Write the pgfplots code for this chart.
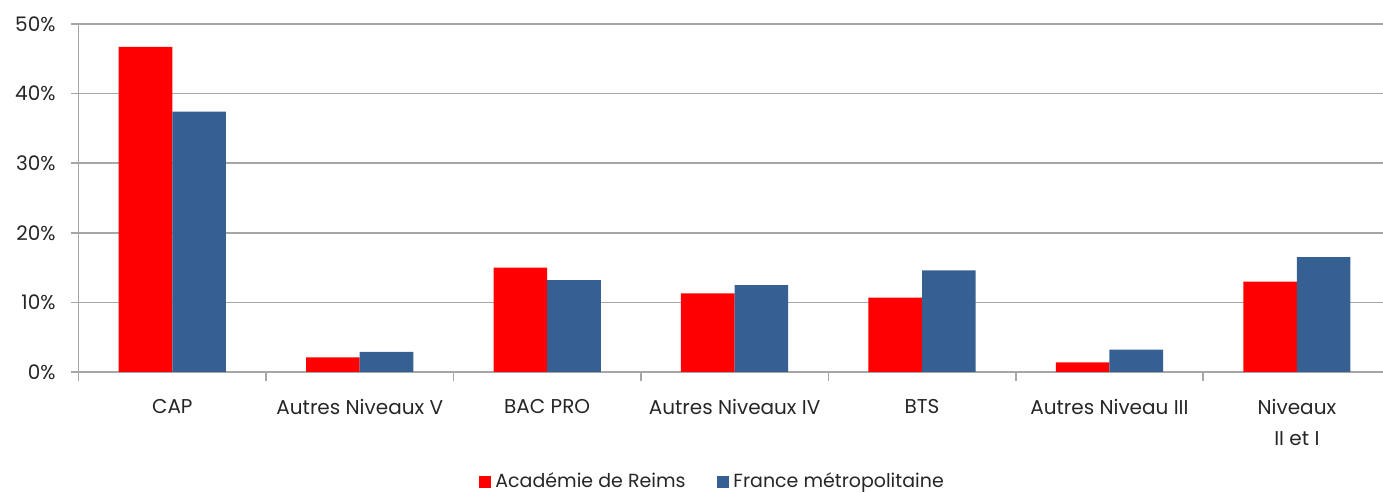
\documentclass[border=0pt]{standalone}
\usepackage{pgfplots}
\pgfplotsset{compat=1.18}
\usepackage{fontspec}
\setmainfont{Poppins}
\definecolor{rred}{HTML}{FF0000}
\definecolor{rblue}{HTML}{376092}
\definecolor{gridg}{HTML}{A6A6A6}
\definecolor{txt}{HTML}{262626}
\begin{document}
\begin{tikzpicture}
\useasboundingbox (-39.3pt,-60.5pt) rectangle (652.2pt,186pt);
\begin{axis}[
  at={(0,0)}, anchor=south west,
  scale only axis, width=656pt, height=174pt,
  clip=false,
  ybar=0pt, bar width=26.8pt,
  xmin=-0.5, xmax=6.5, ymin=0, ymax=50,
  axis x line*=bottom, axis y line*=left,
  axis line style={gridg, line width=0.8pt},
  xtick={0,...,6},
  xticklabels={CAP, Autres Niveaux V, BAC PRO, Autres Niveaux IV, BTS, Autres Niveau III, {Niveaux\\II et I}},
  xticklabel style={align=center, yshift=-6pt, text=txt, font=\fontsize{10}{15.5}\selectfont},
  major x tick style={draw=none},
  minor xtick={-0.5,0.5,...,6.5},
  minor x tick style={draw=gridg, line width=0.8pt},
  minor tick length=4.5pt,
  tick align=outside,
  ytick={0,10,...,50},
  yticklabel={\pgfmathprintnumber{\tick}\%},
  yticklabel style={text=txt, font=\fontsize{10}{12}\selectfont, xshift=-4pt},
  major y tick style={draw=gridg, line width=0.8pt},
  major tick length=4pt,
  ymajorgrids, grid style={gridg, line width=0.8pt},
  /pgf/number format/assume math mode=true,
  legend style={at={(0.484,-0.316)}, anchor=center, draw=none, legend columns=2,
    /tikz/every even column/.append style={column sep=14pt},
    font=\fontsize{9.5}{12}\selectfont, text=txt, inner sep=0pt},
  legend image code/.code={\fill[#1] (0pt,-3pt) rectangle (6pt,3pt);},
]
\addplot[fill=rred, draw=none] coordinates {(0,46.7) (1,2.1) (2,15.0) (3,11.3) (4,10.7) (5,1.4) (6,13.0)};
\addplot[fill=rblue, draw=none] coordinates {(0,37.4) (1,2.9) (2,13.2) (3,12.5) (4,14.6) (5,3.2) (6,16.5)};
\legend{Académie de Reims, France métropolitaine}
\end{axis}
\end{tikzpicture}
\end{document}
